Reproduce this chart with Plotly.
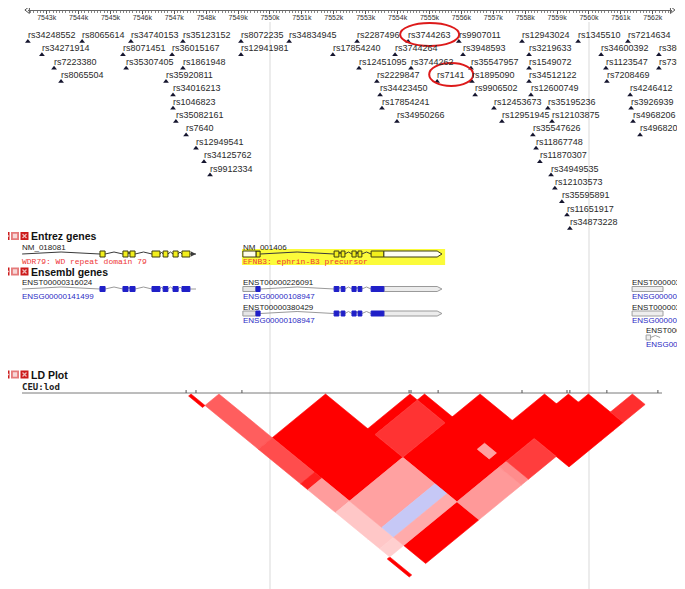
import plotly.graph_objects as go

# ---- values (chr17 positions in kb) ----
ruler_kb = list(range(7543, 7563))
ruler_labels = [f"{k}k" for k in ruler_kb]
ruler_span = [7542.41, 7562.60]
grid_kb = [7550, 7560]

snp_names = [
    "rs34248552", "rs8065614", "rs34740153", "rs35123152", "rs8072235", "rs34834945",
    "rs2287496", "rs3744263", "rs9907011", "rs12943024", "rs1345510", "rs7214634",
    "rs34271914", "rs8071451", "rs36015167", "rs12941981", "rs17854240", "rs3744264",
    "rs3948593", "rs3219633", "rs34600392", "rs380",
    "rs7223380", "rs35307405", "rs1861948", "rs12451095", "rs3744262", "rs35547957",
    "rs1549072", "rs1123547", "rs735",
    "rs8065504", "rs35920811", "rs2229847", "rs7141", "rs1895090", "rs34512122", "rs7208469",
    "rs34016213", "rs34423450", "rs9906502", "rs12600749", "rs4246412",
    "rs1046823", "rs17854241", "rs12453673", "rs35195236", "rs3926939",
    "rs35082161", "rs34950266", "rs12951945", "rs12103875", "rs4968206",
    "rs7640", "rs35547626", "rs4968207",
    "rs12949541", "rs11867748",
    "rs34125762", "rs11870307",
    "rs9912334", "rs34949535",
    "rs12103573", "rs35595891", "rs11651917", "rs34873228",
]
snp_kb = [
    7542.41, 7544.11, 7545.64, 7547.27, 7549.09, 7550.60,
    7552.73, 7554.33, 7555.92, 7557.90, 7559.66, 7561.22,
    7542.85, 7545.39, 7546.93, 7549.09, 7551.97, 7553.92,
    7556.05, 7558.12, 7560.38, 7562.19,
    7543.23, 7545.49, 7547.27, 7552.79, 7554.42, 7556.30,
    7558.12, 7560.53, 7562.19,
    7543.45, 7546.74, 7553.35, 7555.24, 7556.33, 7558.12, 7560.56,
    7546.96, 7553.45, 7556.43, 7558.18, 7561.29,
    7546.96, 7553.51, 7557.02, 7558.71, 7561.32,
    7547.05, 7553.98, 7557.27, 7558.84, 7561.38,
    7547.37, 7558.24, 7561.60,
    7547.68, 7558.34,
    7547.93, 7558.46,
    7548.12, 7558.81,
    7558.93, 7559.15, 7559.31, 7559.40,
]
snp_row = [0] * 12 + [1] * 10 + [2] * 9 + [3] * 7 + [4] * 5 + [5] * 5 + [6] * 5 \
    + [7] * 3 + [8] * 2 + [9] * 2 + [10] * 2 + [11, 12, 13, 14]
circled = ["rs3744263", "rs7141"]

# Entrez genes
entrez_names = ["NM_018081", "NM_001406"]
entrez_desc = ["WDR79: WD repeat domain 79", "EFNB3: ephrin-B3 precursor"]
entrez_span = [(7542.23, 7547.68), (7549.15, 7555.39)]
wdr79_cds = [(7544.67, 7544.83), (7545.39, 7545.55), (7545.61, 7545.77), (7546.30, 7546.55),
             (7546.65, 7546.80), (7546.96, 7547.12), (7547.24, 7547.49)]
efnb3_cds = [(7549.56, 7549.69), (7552.01, 7552.16), (7552.23, 7552.35), (7552.57, 7552.70),
             (7552.76, 7552.88), (7553.17, 7553.57)]
efnb3_utr5 = (7549.15, 7549.56)
efnb3_utr3 = (7553.57, 7555.24)
highlight_kb = (7549.12, 7555.49)

# Ensembl genes
ens_tx = ["ENST00000316024", "ENST00000226091", "ENST00000380429",
          "ENST000003", "ENST000003", "ENST0000"]
ens_gene = ["ENSG00000141499", "ENSG00000108947", "ENSG00000108947",
            "ENSG000001", "ENSG000001", "ENSG0000"]
ens_start = [7542.23, 7549.15, 7549.15, 7561.35, 7561.35, 7561.79]
ens_slot = [0, 0, 1, 0, 1, 2]
ens_nc_box = [(7561.35, 7562.32), (7561.35, 7562.32), (7561.79, 7561.93)]

# LD plot (CEU, lod): genotyped SNPs and pair shading (1 = red, -1 = blue)
ld_snp_kb = [7547.37, 7547.68, 7549.12, 7554.36, 7554.42, 7555.27,
             7557.90, 7559.31, 7559.40, 7560.56, 7562.16]
ld_a = [0, 0, 1, 1, 1, 1, 1, 1, 1, 2, 2, 2, 2, 2, 2, 2, 3, 3, 3, 3, 3, 3,
        4, 4, 4, 4, 4, 5, 5, 5, 5, 6, 6, 6, 6, 7, 7, 7, 8, 8, 9]
ld_b = [1, 9, 2, 3, 4, 5, 6, 7, 8, 3, 4, 5, 6, 7, 8, 9, 4, 5, 6, 7, 8, 9,
        5, 6, 7, 8, 9, 6, 7, 8, 9, 7, 8, 9, 10, 8, 9, 10, 9, 10, 10]
ld_val = [1, 1, .63, .70, .88, .39, .22, .22, .19, 1, 1, 1, .37, -1, .33, 1,
          1, .80, 1, 1, 1, .40, 1, 1, .37, 1, .45, 1, 1, 1, .76,
          1, 1, 1, 1, 1, 1, 1, 1, 1, .82]

# ---- page geometry (data y = pixel row of the page) ----
W, H = 685, 589
PAGE_PAD = 8            # the html body margin moves the figure by this much
PX_PER_KB = 31.9
KB0 = 7550 - 270 / PX_PER_KB


def px_kb(px):
    return KB0 + px / PX_PER_KB


def row_y(r):
    return 35 + 13.35 * r


def rects(spans, yc, half):
    xs, ys = [], []
    for a, c in spans:
        xs += [a, c, c, a, a, None]
        ys += [yc - half, yc - half, yc + half, yc + half, yc - half, None]
    return xs, ys


def hats(start, blocks, yc, rise=2):
    # intron "hats" from start to each block, then block to block
    xs, ys = [], []
    edges = [start] + [p for blk in blocks for p in blk]
    for g0, g1 in zip(edges[0::2], edges[1::2]):
        if g1 - g0 > 0.02:
            xs += [g0, (g0 + g1) / 2, g1, None]
            ys += [yc, yc - rise, yc, None]
    return xs, ys


def poly(fig, xs, ys, fill, line, width=1):
    fig.add_trace(go.Scatter(x=xs, y=ys, mode="lines", fill="toself", fillcolor=fill,
                             line=dict(color=line, width=width), hoverinfo="skip"))


def line(fig, xs, ys, color, width=1):
    fig.add_trace(go.Scatter(x=xs, y=ys, mode="lines", line=dict(color=color, width=width),
                             hoverinfo="skip"))


def label(fig, x, y, text, size=8, color="#222", family=None):
    fig.add_annotation(x=x, y=y, text=text, showarrow=False, xanchor="left", yanchor="middle",
                       xshift=-2, font=dict(size=size, color=color, family=family))


fig = go.Figure()

for g in grid_kb:
    fig.add_shape(type="line", x0=g, x1=g, y0=22, y1=H + PAGE_PAD, xref="x", yref="y",
                  line=dict(color="#d9d9d9", width=1), layer="below")

# ruler arrow heads (ticks come from xaxis2)
fig.add_trace(go.Scatter(x=ruler_span, y=[10, 10], xaxis="x2", yaxis="y", mode="markers",
                         cliponaxis=False,
                         marker=dict(symbol=["triangle-left-open", "triangle-right-open"],
                                     size=6, color="#555", line=dict(width=1, color="#555")),
                         hoverinfo="skip"))

# SNP track
fig.add_trace(go.Scatter(x=snp_kb, y=[row_y(r) + 6.5 for r in snp_row], mode="markers",
                         marker=dict(symbol="triangle-up", size=5, color="#15152e"),
                         hoverinfo="skip"))
for name, kb, r in zip(snp_names, snp_kb, snp_row):
    label(fig, kb, row_y(r), name, size=9, color="#2a2a2a")
for name in circled:
    k = snp_names.index(name)
    x0 = snp_kb[k] - 0.25
    x1 = x0 + (len(name) * 5 + 14) / PX_PER_KB
    y0 = row_y(snp_row[k])
    fig.add_shape(type="circle", xref="x", yref="y", x0=x0, x1=x1, y0=y0 - 12, y1=y0 + 11,
                  line=dict(color="#dd1a1a", width=2))

# section headers
icon_colors = ["#cc1b1b", "#e57b7b", "#cc1b1b"]
icon_marks = ["line-ew", "square", "x-thin"]
for y, title in [(236, "Entrez genes"), (271.5, "Ensembl genes"), (374.5, "LD Plot")]:
    xs = [px_kb(5.5), px_kb(15), px_kb(24.5)]
    fig.add_trace(go.Scatter(x=xs, y=[y] * 3, mode="markers",
                             marker=dict(symbol="square", size=8, color=icon_colors),
                             hoverinfo="skip"))
    fig.add_trace(go.Scatter(x=xs, y=[y] * 3, mode="markers",
                             marker=dict(symbol=icon_marks, size=[5, 3, 4], color="white",
                                         line=dict(color="white", width=1.3)),
                             hoverinfo="skip"))
    label(fig, px_kb(31), y, f"<b>{title}</b>", size=10.5, color="#111")

# Entrez genes
fig.add_shape(type="rect", xref="x", yref="y", x0=highlight_kb[0], x1=highlight_kb[1],
              y0=249, y1=265, fillcolor="#fbfb3a", line=dict(width=0), layer="below")
for name, desc, (s, e) in zip(entrez_names, entrez_desc, entrez_span):
    label(fig, s, 247, name, size=8)
    label(fig, s, 261.5, desc, size=8, color="#ee3838", family="Liberation Mono")
yg = 254
xs, ys = hats(entrez_span[0][0], wdr79_cds, yg)
line(fig, xs + [wdr79_cds[-1][1], entrez_span[0][1]], ys + [yg, yg], "#3a3a3a")
fig.add_trace(go.Scatter(x=[entrez_span[0][1]], y=[yg], mode="markers",
                         marker=dict(symbol="arrow-right", size=5, color="#3a3a3a"),
                         hoverinfo="skip"))
xs, ys = hats(efnb3_cds[0][1], efnb3_cds[1:], yg)
line(fig, xs, ys, "#3a3a3a")
xs, ys = rects(wdr79_cds + efnb3_cds, yg, 3)
poly(fig, xs, ys, "#f3ef1c", "#3d3d10")
xs, ys = rects([efnb3_utr5], yg, 3)
poly(fig, xs, ys, "#fffde8", "#3d3d10")
a, c = efnb3_utr3
tip = entrez_span[1][1]
poly(fig, [a, c, tip, c, a, a], [yg - 3, yg - 3, yg, yg + 3, yg + 3, yg - 3], "#fffef2", "#3d3d10")

# Ensembl genes
slot_y = [(282, 289, 296), (307, 313.5, 320), (330, 337.5, 344)]
for k, (tx, gn, s, sl) in enumerate(zip(ens_tx, ens_gene, ens_start, ens_slot)):
    ty, gy, ny = slot_y[sl]
    label(fig, s, ty, tx, size=8)
    label(fig, s, ny, gn, size=8, color="#2b2bc4")
    if k == 0:
        xs, ys = hats(s, wdr79_cds, gy)
        line(fig, xs + [wdr79_cds[-1][1], entrez_span[0][1]], ys + [gy, gy], "#9a9a9a")
        xs, ys = rects(wdr79_cds, gy, 2.5)
        poly(fig, xs, ys, "#2020c8", "#2020c8")
    elif k in (1, 2):
        xs, ys = hats(efnb3_cds[0][1], efnb3_cds[1:], gy)
        line(fig, xs, ys, "#9a9a9a")
        xs, ys = rects([efnb3_utr5], gy, 2.5)
        poly(fig, xs, ys, "#e6e6e6", "#9a9a9a")
        a, c = efnb3_utr3
        poly(fig, [a, c, tip, c, a, a], [gy - 2.5, gy - 2.5, gy, gy + 2.5, gy + 2.5, gy - 2.5],
             "#ececec", "#9a9a9a")
        xs, ys = rects(efnb3_cds, gy, 2.5)
        poly(fig, xs, ys, "#2020c8", "#2020c8")
    else:
        box = ens_nc_box[k - 3]
        xs, ys = rects([box], gy, 2.5)
        poly(fig, xs, ys, "#eeeeee", "#a0a0a0")
        if k == 5:
            xs, ys = hats(box[1], [(7562.23, 7562.23)], gy)
            line(fig, xs, ys, "#a0a0a0")

# LD plot
label(fig, px_kb(22), 387, "<b>CEU:lod</b>", size=9, color="#222", family="DejaVu Sans Mono")
LD_TOP = 394
LD_DEPTH = 0.41 * PX_PER_KB
line(fig, [px_kb(22), px_kb(662)], [LD_TOP - 1, LD_TOP - 1], "#7a7a7a")
tx_, ty_ = [], []
for s in ld_snp_kb:
    tx_ += [s, s, None]
    ty_ += [LD_TOP - 1, LD_TOP - 4, None]
line(fig, tx_, ty_, "#555")

bnd = [ld_snp_kb[0]] + [(p + q) / 2 for p, q in zip(ld_snp_kb[:-1], ld_snp_kb[1:])] + [ld_snp_kb[-1]]
cells = {}
for i, j, v in zip(ld_a, ld_b, ld_val):
    if v < 0:
        col = "#c6c8f6"
    else:
        g = round(255 * (1 - v))
        col = f"rgb(255,{g},{g})"
    corners = [(bnd[i], bnd[j]), (bnd[i + 1], bnd[j]), (bnd[i + 1], bnd[j + 1]), (bnd[i], bnd[j + 1]),
               (bnd[i], bnd[j])]
    xs, ys = cells.setdefault(col, ([], []))
    for u, w in corners:
        xs.append((u + w) / 2)
        ys.append(LD_TOP + LD_DEPTH * (w - u))
    xs.append(None)
    ys.append(None)
for col, (xs, ys) in cells.items():
    poly(fig, xs, ys, col, col, width=0.6)

d0 = (ruler_span[0] - px_kb(PAGE_PAD)) * PX_PER_KB / W
d1 = (ruler_span[1] - px_kb(PAGE_PAD)) * PX_PER_KB / W
fig.update_layout(
    width=W, height=H, margin=dict(l=0, r=0, t=0, b=0),
    paper_bgcolor="white", plot_bgcolor="rgba(0,0,0,0)", showlegend=False,
    font=dict(family="Liberation Sans, Arial, sans-serif", color="#222"),
    xaxis=dict(range=[px_kb(PAGE_PAD), px_kb(PAGE_PAD + W)], visible=False, fixedrange=True),
    yaxis=dict(range=[H + PAGE_PAD, PAGE_PAD], visible=False, fixedrange=True),
    xaxis2=dict(domain=[d0, d1], range=ruler_span, anchor="free",
                position=1 - (10 - PAGE_PAD) / H,
                side="bottom", showline=True, linecolor="#666", linewidth=1,
                ticks="outside", ticklen=3, tickcolor="#555", tickvals=ruler_kb,
                ticktext=ruler_labels, tickfont=dict(size=7, color="#333"),
                ticklabelstandoff=-2,
                showgrid=False, zeroline=False, fixedrange=True,
                minor=dict(tickmode="linear", tick0=7543, dtick=0.1, ticks="outside",
                           ticklen=2, tickcolor="#888", showgrid=False)),
)

fig.write_html("out.html")
